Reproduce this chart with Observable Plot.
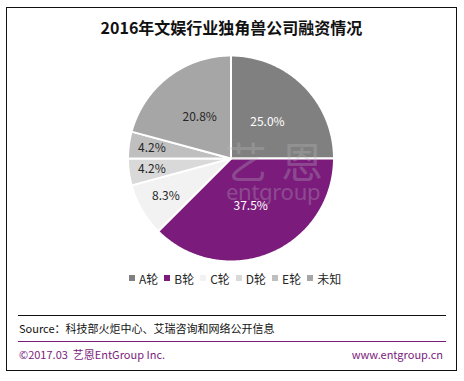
<!DOCTYPE html>
<html><head><meta charset="utf-8">
<script src="https://cdn.jsdelivr.net/npm/d3@7"></script>
<script src="https://cdn.jsdelivr.net/npm/@observablehq/plot@0.6"></script>
<style>
body{margin:0;width:464px;height:381px;position:relative;background:#fff;overflow:hidden;font-family:"Noto Sans CJK SC","Noto Sans",sans-serif;}
#frame{position:absolute;left:6px;top:7px;width:451px;height:364px;border:1.5px solid #111;box-sizing:border-box;}
#title{position:absolute;top:16px;left:0;width:463px;text-align:center;font-size:16px;font-weight:bold;line-height:22px;color:#111;}
#chart{position:absolute;top:48px;left:0;}
#wm{position:absolute;left:0;top:0;width:464px;height:381px;pointer-events:none;}
#wm span{position:absolute;color:rgba(190,190,190,0.3);white-space:nowrap;line-height:1;}
#legend{position:absolute;top:268px;left:129px;}
.lg-swatches{font-family:"Noto Sans CJK SC","Noto Sans",sans-serif !important;font-size:12px !important;color:#262626;min-height:20px !important;margin:0 !important;}
.lg-swatch{margin-right:6px !important;}
.lg-swatch > svg{margin-right:4px !important;}
.hline{position:absolute;left:18px;width:428px;height:1px;}
.ft{position:absolute;font-size:11px;line-height:14px;white-space:nowrap;}
</style></head>
<body>
<div id="frame"></div>
<div id="title">2016年文娱行业独角兽公司融资情况</div>
<div id="chart"></div>
<div id="wm">
  <span style="left:225px;top:139px;font-size:42px;letter-spacing:14px;">艺恩</span>
  <span style="left:226px;top:180px;font-size:22px;letter-spacing:-0.3px;font-family:'Noto Sans',sans-serif;">entgroup</span>
</div>
<div id="legend"></div>
<div class="hline" style="top:315px;background:#111;"></div>
<div class="ft" style="left:19px;top:321px;color:#111;">Source：科技部火炬中心、艾瑞咨询和网络公开信息</div>
<div class="hline" style="top:341px;background:#7b1c7d;"></div>
<div class="ft" style="left:19px;top:347px;color:#7b1c7d;">©2017.03&nbsp;&nbsp;艺恩EntGroup Inc.</div>
<div class="ft" style="right:21px;top:347px;color:#7b1c7d;">www.entgroup.cn</div>
<script>
const categories = ["A轮", "B轮", "C轮", "D轮", "E轮", "未知"];
const shares = [25.0, 37.5, 8.3, 4.2, 4.2, 20.8];
const colors = ["#808080", "#7b1c7d", "#f2f2f2", "#d9d9d9", "#bfbfbf", "#a6a6a6"];

const R = 103;
const W = 464, H = 220, cx = 230.5, cy = 110;
const arcs = d3.pie().sort(null).value(d => d)(shares);

// slice outlines (polygons) built from pie angles
const pts = [];
arcs.forEach((a, i) => {
  const cat = categories[i];
  pts.push({cat, x: 0, y: 0});
  const n = Math.max(2, Math.ceil((a.endAngle - a.startAngle) / 0.01));
  for (let k = 0; k <= n; k++) {
    const t = a.startAngle + (a.endAngle - a.startAngle) * k / n;
    pts.push({cat, x: R * Math.sin(t), y: R * Math.cos(t)});
  }
});

const labels = arcs.map((a, i) => {
  const mid = (a.startAngle + a.endAngle) / 2;
  const v = shares[i];
  const r = R * (v >= 10 ? 0.5 : v > 6 ? 0.73 : 0.775);
  return {
    cat: categories[i],
    x: r * Math.sin(mid),
    y: r * Math.cos(mid),
    text: v.toFixed(1) + "%",
    dark: d3.lab(colors[i]).l > 60
  };
});

const chart = Plot.plot({
  width: W, height: H,
  margin: 0,
  x: {domain: [-cx, W - cx], axis: null},
  y: {domain: [-(H - cy), cy], axis: null},
  color: {domain: categories, range: colors},
  style: {fontFamily: "'Noto Sans CJK SC','Noto Sans',sans-serif", overflow: "visible"},
  marks: [
    Plot.line(pts, {x: "x", y: "y", z: "cat", fill: "cat", stroke: "#fff", strokeWidth: 2, strokeLinejoin: "round", curve: "linear-closed"}),
    Plot.text(labels, {filter: d => !d.dark, x: "x", y: "y", text: "text", fill: "#fff", fontSize: 12}),
    Plot.text(labels, {filter: d => d.dark, x: "x", y: "y", text: "text", fill: "#262626", fontSize: 12})
  ]
});
document.getElementById("chart").appendChild(chart);

const legend = Plot.legend({
  color: {domain: categories, range: colors, type: "ordinal"},
  legend: "swatches",
  swatchSize: 6,
  className: "lg"
});
document.getElementById("legend").appendChild(legend);
</script>
</body></html>
